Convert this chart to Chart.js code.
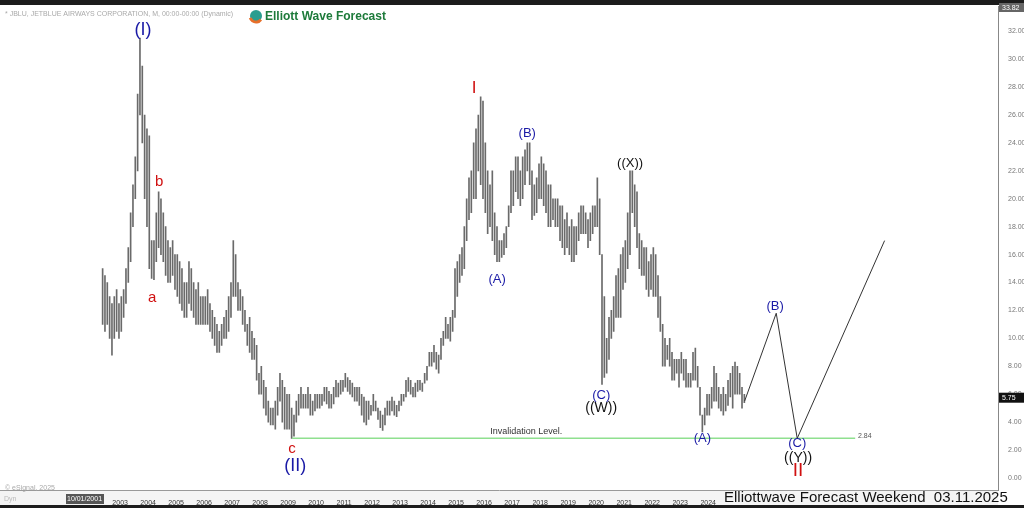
<!DOCTYPE html>
<html><head><meta charset="utf-8">
<script src="https://cdn.jsdelivr.net/npm/chart.js@4.4.1/dist/chart.umd.min.js"></script>
<style>html,body{margin:0;padding:0;background:#fff}#w{width:1024px;height:508px;position:relative}</style>
</head><body><div id="w"><canvas id="c" width="1024" height="508"></canvas></div>
<script>
const startYear = 2002, startMonth = 4; // May 2002 (0-based month)
const highs = [
 15,14.5,14,13,12.5,13,13.5,12.5,
 13,13.5,15,16.5,19,21,23,27.5,31.5,29.5,26,25,
 24.5,17,17,19,20.5,20,19,18,17,16.5,17,16,
 16,15.5,15,14,14,15.5,15,14,13.5,14,13,13,
 13,13.5,12.5,12,11.5,11,10.5,11,11.5,12,13,14,
 17,16,14,13.5,13,12,11,11.5,10.5,10,9.5,7.5,
 8,7,6.5,5.5,5,5,5.5,6.5,7.5,7,6.5,6,
 6,5,4.5,5.5,6,6.5,6,6,6.5,6,5.5,6,
 6,6,6,6.5,6.5,6.2,6,6.5,7,6.8,7,7,
 7.5,7.2,7,6.8,6.5,6.5,6.5,6,5.8,5.5,5.5,5.2,
 6,5.5,5,4.8,4.5,5,5.5,5.5,5.8,5.5,5.2,5.5,
 6,6,7,7.2,7,6.5,6.8,7,7,6.8,7.5,8,
 9,9,9.5,9,8.8,10,10.5,11.5,11,11.5,12,15,
 15.5,16,16.5,18,20,21.5,22,24,25,26,27.3,27,
 24,22,21,22,19,18,17,17,17.5,18,19.5,22,
 22,23,23,22,23,23.5,24,24,22,21,21.5,22.5,
 23,22.5,22,21,21,20,20,20,19.5,19.5,18.5,19,
 18,18.5,18,18,19,19.5,19.5,19,18.5,19,19.5,19.5,
 21.5,20,16,13,10,11.5,12,13,14.5,15,16,16.5,
 17,19,22,22,21,20.5,17.5,17,16.5,16.5,15.5,16,
 16.5,16,14.5,13,11,10,9.5,10,9,8.5,8.5,8.5,
 9,8.5,8.5,7.5,7.5,9,9.3,8,6.5,4.5,5,6,
 6,6.5,8,7.5,6.5,6,6.5,6,7,7.5,8,8.3,
 8,7.5,6.5,6];
const lows = [
 11,10.5,11,10,8.8,10,10.5,10,
 10.5,11.5,12.5,14,15.5,18,20,22,26,24,20,18,
 15,14.3,14.2,15.5,16.5,16,15.5,14.5,14,14,14.5,13.5,
 13,12.5,12,11.5,11.5,12.5,12,11.5,11,11,11,11,
 11,11,10.5,10,9.5,9,9,9.5,10,10,10.5,11.5,
 13,13,12,12,11,10.5,9.5,9,8.5,8.5,7,6,
 6,5,4.5,4,3.8,3.8,3.5,4.5,5.5,4,3.5,3.5,
 3.5,2.84,3,4,4.5,5,5,5,5,4.5,4.5,4.8,
 5,5,5.2,5.5,5.3,5,5,5.3,5.8,5.8,6,6.2,
 6.5,6.2,6,5.8,5.5,5.5,5.2,4.5,4,3.8,4.2,4.5,
 4.8,4.8,4.2,3.6,3.4,3.8,4.5,4.5,4.8,4.5,4.4,4.8,
 5.2,5.5,5.8,6.2,6,5.8,5.8,6.2,6.3,6.2,6.8,7,
 8,8,8.3,7.8,7.5,8.5,9.5,10,10,9.8,10.5,11.5,
 13,14,14.5,15,17,18.5,19,20,20,22,21,20,
 19,17.5,18,17,16,15.5,15.5,15.8,16,16.5,18,19,
 19.5,20.5,20,19.5,20,21,22,21,18.5,18.8,19,20,
 20,19.5,19,18,18,18.5,18,18,17,16.5,16,16.5,
 16,15.5,15.5,16,17,17.5,17.5,17.5,16.5,17,17.5,18,
 18,16,6.7,7.2,7.5,8.5,10,10.5,11.5,11.5,11.5,13.5,
 14,15,16,19,18,16.5,15,14.5,14.5,13.5,13,13.5,
 13,13,11.5,10.5,8,8,8.5,8,7,7,7.5,6.5,
 7.5,7,6.5,6.5,6.5,7,7,6.5,4.5,3.3,3.8,4.5,
 4.5,5,5.5,5.5,5,4.8,4.5,4.8,5.2,5.8,5,6,
 6,6,5,5.4];
const lastPrice = 5.75;
const invalidation = 2.84;
const projYears = [2025.3, 2026.43, 2027.18, 2030.3];
const projValues = [5.5, 11.8, 2.84, 17];
const yearTicks = [2003,2004,2005,2006,2007,2008,2009,2010,2011,2012,2013,2014,2015,2016,2017,2018,2019,2020,2021,2022,2023,2024];
const yTicks = [0,2,4,6,8,10,12,14,16,18,20,22,24,26,28,30,32];
const labelText  = ['(I)','b','a','c','(II)','I','(A)','(B)','(C)','((W))','((X))','(A)','(B)','(C)','((Y))','II'];
const labelYear  = [2003.82,2004.39,2004.14,2009.14,2009.25,2015.64,2016.46,2017.54,2020.18,2020.18,2021.21,2023.79,2026.39,2027.18,2027.21,2027.21];
const labelValue = [32.1,21.2,12.9,2.1,0.85,27.9,14.2,24.7,5.9,5.0,22.5,2.85,12.3,2.45,1.45,0.55];
const labelColor = ['#1a1aa6','#d01010','#d01010','#d01010','#1a1aa6','#d01010','#1a1aa6','#1a1aa6','#1a1aa6','#111','#111','#1a1aa6','#1a1aa6','#1a1aa6','#111','#d01010'];
const labelSize  = [18,15,15,15,18,17,13,13,13,14,13,13,13,13,14,19];

const bars = highs.map((h,i)=>({x: startYear + (startMonth+i)/12 + 1/24, y:[lows[i],h]}));

const overlay = {
  id:'overlay',
  afterDraw(ch){
    const c=ch.ctx, xs=ch.scales.x, ys=ch.scales.y;
    c.save();
    c.textAlign='center'; c.textBaseline='middle';
    labelText.forEach((t,i)=>{
      c.fillStyle=labelColor[i];
      c.font=labelSize[i]+'px "Liberation Sans", Arial, sans-serif';
      c.fillText(t, xs.getPixelForValue(labelYear[i]), ys.getPixelForValue(labelValue[i]));
    });
    c.fillStyle='#333'; c.font='9px "Liberation Sans", Arial';
    c.fillText('Invalidation Level.', xs.getPixelForValue(2017.5), ys.getPixelForValue(3.3));
    c.textAlign='left'; c.fillStyle='#555'; c.font='7px "Liberation Sans", Arial';
    c.fillText(invalidation.toFixed(2), xs.getPixelForValue(2029.35), ys.getPixelForValue(3.0));
    c.fillStyle='#aaa'; c.font='7px "Liberation Sans", Arial';
    c.fillText('* JBLU, JETBLUE AIRWAYS CORPORATION, M, 00:00-00:00 (Dynamic)', 5, 14);
    c.fillText('© eSignal, 2025', 5, 488);
    c.beginPath(); c.arc(256,16,6,0,Math.PI*2); c.fillStyle='#2a9d8f'; c.fill();
    c.beginPath(); c.arc(256,16,6,Math.PI*0.2,Math.PI*0.9); c.strokeStyle='#e76f2a'; c.lineWidth=3; c.stroke();
    c.fillStyle='#1d7a3a'; c.font='bold 12px "Liberation Sans", Arial';
    c.fillText('Elliott Wave Forecast', 265, 17);
    const ly=ys.getPixelForValue(lastPrice);
    c.fillStyle='#111'; c.fillRect(999,ly-5,25,10);
    c.fillStyle='#fff'; c.font='7px "Liberation Sans", Arial'; c.fillText(lastPrice.toFixed(2),1002,ly);
    c.fillStyle='#666'; c.fillRect(999,3,25,9);
    c.fillStyle='#fff'; c.fillText('33.82',1002,8);
    c.fillStyle='#555'; c.fillRect(66,494,38,10);
    c.fillStyle='#fff'; c.fillText('10/01/2001',67,499);
    c.fillStyle='#bbb'; c.fillText('Dyn',4,499);
    c.fillStyle='#111'; c.font='15px "Liberation Sans Narrow", "Liberation Sans", Arial';
    c.fillText('Elliottwave Forecast Weekend  03.11.2025', 724, 498);
    c.restore();
  }
};
const frame = {
  id:'frame',
  beforeDraw(ch){
    const c=ch.ctx; c.save();
    c.fillStyle='#fff'; c.fillRect(0,0,1024,508);
    c.fillStyle='#1c1c1c'; c.fillRect(0,0,1024,5); c.fillRect(0,505,1024,3);
    c.fillStyle='#f4f4f4'; c.fillRect(0,491,998,14);
    c.restore();
  }
};

new Chart(document.getElementById('c'),{
  data:{datasets:[
    {type:'bar', data:bars, backgroundColor:'#6a6a6a', borderWidth:0, barThickness:1, grouped:false, order:2},
    {type:'line', data:projYears.map((x,i)=>({x,y:projValues[i]})), borderColor:'#333', borderWidth:1, pointRadius:0, tension:0, order:1},
    {type:'line', data:[{x:2009.14,y:invalidation},{x:2029.25,y:invalidation}], borderColor:'#8fe08f', borderWidth:1.5, pointRadius:0, order:1}
  ]},
  options:{
    responsive:false, animation:false, devicePixelRatio:1,
    layout:{padding:{left:0,top:6,right:0,bottom:3}},
    plugins:{legend:{display:false},tooltip:{enabled:false}},
    scales:{
      x:{type:'linear', offset:false, min:1998.71, max:2034.35, grid:{display:false},
         border:{color:'#999'},
         afterBuildTicks(s){s.ticks=yearTicks.map(v=>({value:v}));},
         afterFit(s){s.height=15;},
         ticks:{autoSkip:false, maxRotation:0, padding:1, color:'#333', font:{size:7, family:'"Liberation Sans Narrow", "Liberation Sans"'}, callback:v=>String(v)}},
      y:{type:'linear', position:'right', min:-0.86, max:33.79, grid:{display:false},
         border:{color:'#888'},
         afterBuildTicks(s){s.ticks=yTicks.map(v=>({value:v}));},
         afterFit(s){s.width=26;},
         ticks:{autoSkip:false, padding:2, color:'#777', font:{size:7, family:'"Liberation Sans"'}, callback:v=>v.toFixed(2)}}
    }
  },
  plugins:[frame,overlay]
});
</script></body></html>
